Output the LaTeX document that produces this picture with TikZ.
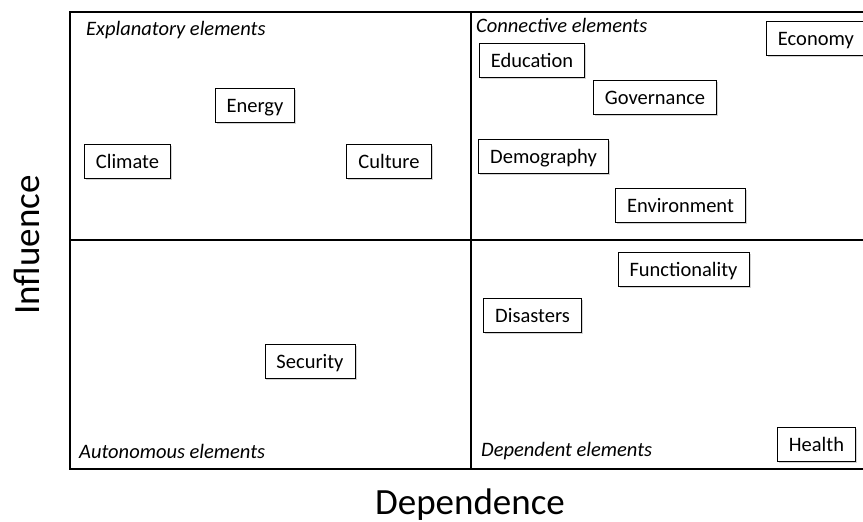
\documentclass[tikz,border=0pt]{standalone}
\usepackage{fontspec}
\setmainfont{Carlito}
\usetikzlibrary{shadows}

\begin{document}
\begin{tikzpicture}[x=1pt,y=-1pt,
  element/.style={draw,line width=0.9pt,fill=white,font=\fontsize{20.5}{24}\selectfont,
    text height=16pt,text depth=2pt,inner xsep=11.5pt,inner ysep=8pt,
    drop shadow={shadow xshift=1.5pt,shadow yshift=-1.5pt,opacity=0.35}},
  quadrant/.style={font=\fontsize{20.5}{24}\selectfont\itshape,inner sep=0pt,anchor=base west},
  axislabel/.style={font=\fontsize{37}{44}\selectfont,inner sep=0pt,anchor=base}]
  
\useasboundingbox (0,0) rectangle (863,522);

\coordinate (topleft) at (70,12);
\coordinate (topright) at (863,12);
\coordinate (bottomleft) at (70,469);
\coordinate (bottomright) at (863,469);
\coordinate (midtop) at (471,12);
\coordinate (midbottom) at (471,469);
\coordinate (midleft) at (70,240);
\coordinate (midright) at (863,240);

\draw[line width=1.3pt] (topright) -- (topleft) -- (bottomleft) -- (bottomright);
\draw[line width=1.3pt] (midtop) -- (midbottom);
\draw[line width=1.3pt] (midleft) -- (midright);

\node[quadrant] (explanatory) at (86,35) {Explanatory elements};
\node[quadrant] (connective) at (476,32) {Connective elements};
\node[quadrant] (autonomous) at (79,458) {Autonomous elements};
\node[quadrant] (dependent) at (481,456) {Dependent elements};

\node[element] (energy) at (255,105) {Energy};
\node[element] (climate) at (127.5,161) {Climate};
\node[element] (culture) at (389,161) {Culture};

\node[element] (education) at (532,60) {Education};
\node[element] (governance) at (655,97.5) {Governance};
\node[element] (demography) at (543.5,156) {Demography};
\node[element] (environment) at (680.5,205.5) {Environment};
\node[element,anchor=west] (economy) at (766,38.5) {Economy};

\node[element] (security) at (310,361.5) {Security};

\node[element] (functionality) at (683.5,269) {Functionality};
\node[element] (disasters) at (532.5,315) {Disasters};
\node[element] (health) at (816.5,444) {Health};

\node[axislabel,rotate=90] (influence) at (39,245) {Influence};
\node[axislabel] (dependence) at (470,514) {Dependence};

\end{tikzpicture}
\end{document}
